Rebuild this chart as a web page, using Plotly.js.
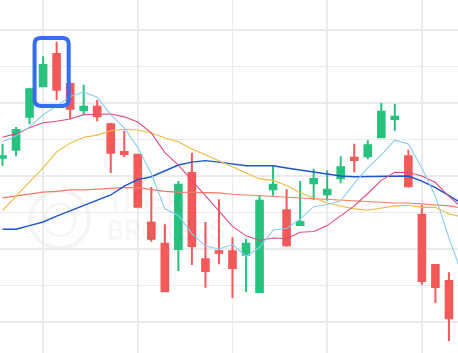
<!DOCTYPE html>
<html>
<head>
<meta charset="utf-8">
<script src="https://cdn.plot.ly/plotly-3.0.1.min.js"></script>
<style>html,body{margin:0;padding:0;background:#fff;}#chart{width:458px;height:353px;}</style>
</head>
<body>
<div id="chart"></div>
<script>
// ---- data ----
const dayIndex = [0,1,2,3,4,5,6,7,8,9,10,11,12,13,14,15,16,17,18,19,20,21,22,23,24,25,26,27,28,29,30,31,32,33,34];
const openPrices  = [12.25,12.36,12.81,13.23,13.67,13.26,12.90,12.95,12.71,12.33,12.29,11.36,11.07,11.00,12.04,10.86,10.97,10.97,10.92,10.41,11.82,11.53,11.33,11.90,11.75,11.97,12.25,12.27,12.53,12.78,12.27,11.47,10.78,10.56,9.82];
const highPrices  = [12.44,12.67,13.21,13.64,13.84,13.29,13.25,13.04,12.73,12.62,12.30,11.85,11.34,11.93,12.32,11.37,11.68,11.16,11.14,11.73,12.14,11.82,11.93,12.10,12.08,12.27,12.44,12.49,13.00,12.99,12.36,11.60,10.79,10.68,10.30];
const lowPrices   = [12.14,12.27,12.71,13.22,13.04,12.78,12.85,12.75,12.04,12.26,11.57,11.10,10.42,10.70,10.78,10.47,10.79,10.33,10.41,10.40,11.73,11.03,11.32,11.67,11.66,11.90,12.05,12.23,12.52,12.62,11.84,10.51,10.26,9.74,9.75];
const closePrices = [12.27,12.63,13.19,13.52,13.18,12.92,12.95,12.82,12.32,12.30,11.58,11.14,10.42,11.88,11.04,10.70,10.95,10.74,11.07,11.66,11.88,11.05,11.37,11.96,11.81,12.12,12.22,12.42,12.88,12.81,11.86,10.56,10.48,10.05,10.23];

const ma5  = [12.47,12.55,12.67,12.84,12.96,13.09,13.15,13.08,12.84,12.66,12.39,12.03,11.55,11.46,11.21,11.04,11.00,11.06,10.90,11.02,11.26,11.28,11.41,11.58,11.61,11.66,11.90,12.11,12.29,12.49,12.44,12.11,11.72,11.15,10.64];
const ma10 = [12.53,12.58,12.66,12.73,12.75,12.78,12.84,12.85,12.85,12.81,12.74,12.59,12.32,12.15,11.94,11.72,11.52,11.31,11.18,11.12,11.15,11.14,11.23,11.24,11.32,11.46,11.59,11.76,11.94,12.05,12.05,12.00,11.91,11.72,11.56];
const ma20 = [11.53,11.73,11.92,12.11,12.33,12.45,12.53,12.56,12.62,12.64,12.63,12.59,12.52,12.47,12.37,12.29,12.21,12.12,12.04,11.96,11.94,11.87,11.77,11.70,11.63,11.59,11.55,11.53,11.56,11.59,11.60,11.57,11.57,11.48,11.44];
const ma30 = [11.27,11.27,11.32,11.37,11.45,11.52,11.59,11.66,11.74,11.86,11.95,11.99,12.07,12.15,12.19,12.21,12.19,12.16,12.14,12.14,12.14,12.11,12.08,12.05,12.03,12.00,11.99,11.99,12.00,12.00,12.00,11.93,11.84,11.73,11.62];
const ma60 = [11.70,11.73,11.75,11.78,11.79,11.81,11.81,11.82,11.84,11.84,11.84,11.81,11.79,11.78,11.78,11.77,11.77,11.75,11.74,11.73,11.71,11.71,11.70,11.68,11.68,11.67,11.66,11.64,11.64,11.63,11.63,11.62,11.60,11.59,11.56];

const watermarkLines = ["TIGER", "BROKERS"];

// ---- styles ----
const UP = "#26C27E", DOWN = "#F25A5A";
const highlight = {x0: 2.37, x1: 4.89, y0: 12.96, y1: 13.89, rx: 0.45, ry: 0.08};

function roundedRect(h){
  const {x0,x1,y0,y1,rx,ry} = h;
  return `M ${x0+rx},${y1} L ${x1-rx},${y1} Q ${x1},${y1} ${x1},${y1-ry} ` +
         `L ${x1},${y0+ry} Q ${x1},${y0} ${x1-rx},${y0} ` +
         `L ${x0+rx},${y0} Q ${x0},${y0} ${x0},${y0+ry} ` +
         `L ${x0},${y1-ry} Q ${x0},${y1} ${x0+rx},${y1} Z`;
}

function maTrace(y, color, width){
  return {type:"scatter", mode:"lines", x:dayIndex, y:y,
          line:{color:color, width:width, shape:"linear"}, hoverinfo:"skip", showlegend:false};
}

const traces = [
  maTrace(ma60, "#F97B66", 1.2),
  maTrace(ma30, "#1A55CC", 1.4),
  maTrace(ma20, "#F4BA3C", 1.1),
  maTrace(ma10, "#E2497E", 1.1),
  maTrace(ma5,  "#88CCF4", 1.1),
  {
    type:"candlestick", x:dayIndex,
    open:openPrices, high:highPrices, low:lowPrices, close:closePrices,
    increasing:{line:{color:UP, width:2}, fillcolor:UP},
    decreasing:{line:{color:DOWN, width:2}, fillcolor:DOWN},
    whiskerwidth:0, showlegend:false, hoverinfo:"skip"
  }
];

const layout = {
  width:458, height:353,
  margin:{l:0, r:0, t:0, b:0, pad:0},
  paper_bgcolor:"#ffffff", plot_bgcolor:"#ffffff",
  showlegend:false,
  xaxis:{range:[-0.185, 33.67], showticklabels:false, ticks:"", tick0:3, dtick:7,
         showgrid:true, gridcolor:"#ebebeb", gridwidth:1.5, zeroline:false, showline:false,
         rangeslider:{visible:false}, fixedrange:true},
  yaxis:{range:[9.575, 14.411], showticklabels:false, ticks:"", tick0:10, dtick:0.5,
         showgrid:true, gridcolor:"#ebebeb", gridwidth:1.5, zeroline:false, showline:false, fixedrange:true},
  shapes:[
    {type:"circle", xref:"paper", yref:"paper", x0:30/458, x1:89/458, y0:1-248/353, y1:1-191/353,
     line:{color:"rgba(0,0,0,0.045)", width:4}, layer:"below"},
    {type:"circle", xref:"paper", yref:"paper", x0:44/458, x1:75/458, y0:1-236/353, y1:1-204/353,
     line:{color:"rgba(0,0,0,0.035)", width:3}, layer:"below"},
    {type:"path", xref:"x", yref:"y", path:roundedRect(highlight),
     line:{color:"#356EF0", width:4}, fillcolor:"rgba(0,0,0,0)", layer:"above"}
  ],
  annotations:[
    {xref:"paper", yref:"paper", x:105/458, y:1-201/353, xanchor:"left", yanchor:"middle",
     text:watermarkLines[0], showarrow:false,
     font:{family:"Roboto, 'Open Sans', sans-serif", size:27, color:"rgba(0,0,0,0.045)", weight:500}},
    {xref:"paper", yref:"paper", x:105/458, y:1-231/353, xanchor:"left", yanchor:"middle",
     text:watermarkLines[1], showarrow:false,
     font:{family:"Roboto, 'Open Sans', sans-serif", size:27, color:"rgba(0,0,0,0.045)", weight:500}}
  ]
};

Plotly.newPlot("chart", traces, layout, {staticPlot:true, displayModeBar:false});
</script>
</body>
</html>
